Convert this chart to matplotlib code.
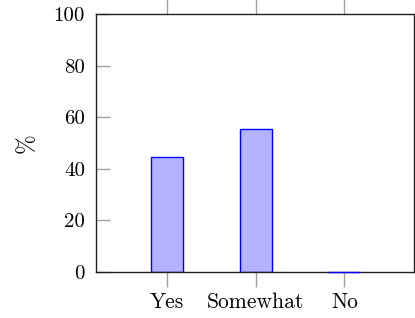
import matplotlib
matplotlib.use("Agg")
import matplotlib.pyplot as plt

categories = ["Yes", "Somewhat", "No"]
values = [44.4, 55.6, 0.0]
yticks = [0, 20, 40, 60, 80, 100]

plt.rcParams['font.family'] = ['cmr10', 'DejaVu Serif']
plt.rcParams['axes.formatter.use_mathtext'] = True
plt.rcParams['mathtext.fontset'] = 'cm'

W, H = 415, 318
fig = plt.figure(figsize=(W/100, H/100), dpi=100)
ax = fig.add_axes([96/W, 1-272/H, (413.5-96)/W, (272-14)/H])

x = [1, 2, 3]
bars = ax.bar(x, values, width=0.36, color='#b3b3ff', edgecolor='#0000ff', linewidth=1.0, zorder=2)
for b in bars:
    if b.get_height() == 0:
        b.set_zorder(3)
        b.set_clip_on(False)

ax.set_xlim(0.2, 3.78)
ax.set_ylim(0, 100)
ax.set_xticks(x)
ax.set_xticklabels(categories)
ax.set_yticks(yticks)
ax.set_yticklabels([str(v) for v in yticks])
ax.set_ylabel('%', fontsize=17, labelpad=11)

ax.tick_params(axis='x', which='both', direction='out', length=11, width=1, color='#a0a0a0',
               top=True, bottom=True, labelsize=15.5, pad=4)
ax.tick_params(axis='y', which='both', direction='in', length=10, width=1, color='#a0a0a0',
               left=True, right=False, labelsize=15, pad=8)
for s in ax.spines.values():
    s.set_linewidth(1.0)
    s.set_color('#202020')

fig.savefig('out.png', dpi=100)
